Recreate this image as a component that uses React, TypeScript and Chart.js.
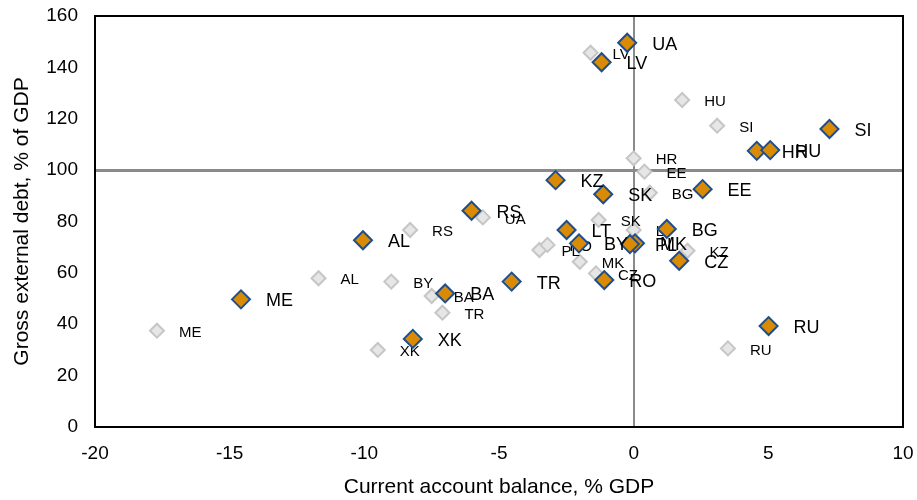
import React, { useEffect, useRef } from "react";
import { Chart, registerables } from "chart.js";

Chart.register(...registerables);

const countries = ["AL", "BA", "BG", "BY", "CZ", "EE", "HR", "HU", "KZ", "LT", "LV", "ME", "MK", "PL", "RO", "RS", "RU", "SI", "SK", "TR", "UA", "XK"];

// earlier observation (grey diamonds)
const grayX = [-11.7, -7.5, 0.6, -9.0, -1.4, 0.4, 0.0, 1.8, 2.0, 0.0, -1.6, -17.7, -2.0, -3.5, -3.2, -8.3, 3.5, 3.1, -1.3, -7.1, -5.6, -9.5];
const grayY = [57.9, 51.0, 91.2, 56.6, 59.8, 99.4, 104.6, 127.3, 68.6, 76.7, 145.7, 37.5, 64.3, 68.9, 70.9, 76.7, 30.6, 117.3, 80.6, 44.5, 81.6, 30.0];

// latest observation (orange diamonds)
const orangeX = [-10.05, -7.0, 1.23, -2.03, 1.69, 2.56, 4.57, 5.07, -2.9, -2.49, -1.19, -14.58, 0.05, -0.14, -1.09, -6.02, 5.01, 7.27, -1.13, -4.53, -0.24, -8.2];
const orangeY = [72.7, 52.0, 77.1, 71.5, 64.7, 92.6, 107.5, 107.8, 96.1, 76.7, 142.0, 49.7, 71.5, 71.2, 57.2, 84.2, 39.3, 116.0, 90.6, 56.6, 149.6, 34.3];

const xTitle = "Current account balance, % GDP";
const yTitle = "Gross external debt, % of GDP";

const FONT = "'Liberation Sans', Arial, sans-serif";

const labelPlugin = {
  id: "pointLabels",
  afterDatasetDraw(chart: any, args: any) {
    const meta = args.meta;
    const ds = chart.data.datasets[args.index];
    const ctx = chart.ctx;
    ctx.save();
    ctx.fillStyle = "#000";
    ctx.textBaseline = "middle";
    ctx.textAlign = "left";
    ctx.font = `${ds.labelSize}px ${FONT}`;
    meta.data.forEach((el: any, i: number) => {
      ctx.fillText(countries[i], el.x + ds.labelOffset, el.y + 2);
    });
    ctx.restore();
  },
};

const framePlugin = {
  id: "frame",
  beforeDatasetsDraw(chart: any) {
    const { ctx, chartArea } = chart;
    ctx.save();
    ctx.strokeStyle = "#000";
    ctx.lineWidth = 2;
    ctx.strokeRect(chartArea.left, chartArea.top, chartArea.right - chartArea.left, chartArea.bottom - chartArea.top);
    ctx.restore();
  },
};

const zeroPad = (s: any) => {
  s.paddingTop = 0;
  s.paddingBottom = 0;
  s.paddingLeft = 0;
  s.paddingRight = 0;
};

export default function App() {
  const ref = useRef<HTMLCanvasElement>(null);
  useEffect(() => {
    document.body.style.margin = "0";
    const chart = new Chart(ref.current as HTMLCanvasElement, {
      type: "scatter",
      data: {
        datasets: [
          {
            label: "latest",
            data: orangeX.map((x, i) => ({ x, y: orangeY[i] })),
            pointStyle: "rectRot",
            pointRadius: 9,
            backgroundColor: "#D98B06",
            borderColor: "#1F4E8C",
            borderWidth: 2,
            labelSize: 18,
            labelOffset: 25,
          } as any,
          {
            label: "earlier",
            data: grayX.map((x, i) => ({ x, y: grayY[i] })),
            pointStyle: "rectRot",
            pointRadius: 7,
            backgroundColor: "#E6E6E6",
            borderColor: "#C6C6C6",
            borderWidth: 2,
            labelSize: 15,
            labelOffset: 22,
          } as any,
        ],
      },
      options: {
        animation: false,
        responsive: false,
        maintainAspectRatio: false,
        layout: { padding: { top: 16, right: 14, left: 0, bottom: 0 } },
        plugins: { legend: { display: false }, tooltip: { enabled: false } },
        scales: {
          x: {
            type: "linear",
            min: -20,
            max: 10,
            afterFit: (s: any) => { s.height = 73; zeroPad(s); },
            ticks: { stepSize: 5, color: "#000", font: { size: 19, family: FONT }, padding: 15, maxRotation: 0 },
            grid: {
              drawTicks: false,
              color: (c: any) => (c.tick && c.tick.value === 0 ? "#8A8A8A" : "rgba(0,0,0,0)"),
              lineWidth: 2,
            },
            border: { display: false },
            title: { display: true, text: xTitle, color: "#000", font: { size: 21, family: FONT }, padding: 0 },
          },
          y: {
            type: "linear",
            min: 0,
            max: 160,
            afterFit: (s: any) => { s.width = 95; zeroPad(s); },
            ticks: { stepSize: 20, color: "#000", font: { size: 19, family: FONT }, padding: 17 },
            grid: {
              drawTicks: false,
              color: (c: any) => (c.tick && c.tick.value === 100 ? "#8A8A8A" : "rgba(0,0,0,0)"),
              lineWidth: 3,
            },
            border: { display: false },
            title: { display: true, text: yTitle, color: "#000", font: { size: 21, family: FONT }, padding: { top: 10, bottom: 0 } },
          },
        },
      } as any,
      plugins: [framePlugin, labelPlugin],
    });
    return () => chart.destroy();
  }, []);
  return (
    <div style={{ width: 917, height: 500 }}>
      <canvas ref={ref} width={917} height={500} style={{ width: 917, height: 500 }} />
    </div>
  );
}
